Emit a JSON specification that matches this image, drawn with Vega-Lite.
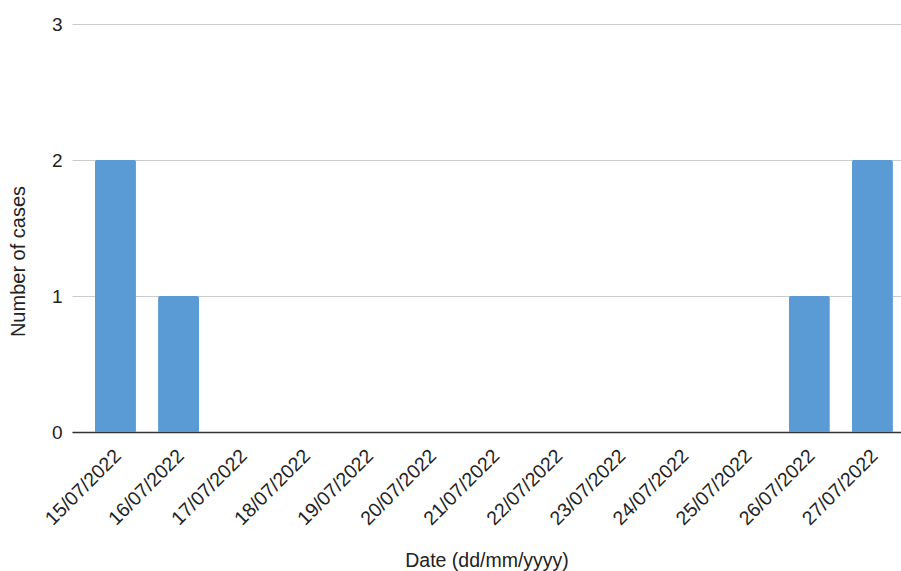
{
  "$schema": "https://vega.github.io/schema/vega-lite/v6.json",
  "width": 829,
  "height": 408,
  "autosize": "none",
  "padding": {"left": 72, "top": 24, "right": 0, "bottom": 139},
  "background": "white",
  "config": {
    "view": {"stroke": null},
    "font": "Liberation Sans"
  },
  "data": {
    "values": [
      {"date": "15/07/2022", "cases": 2},
      {"date": "16/07/2022", "cases": 1},
      {"date": "17/07/2022", "cases": 0},
      {"date": "18/07/2022", "cases": 0},
      {"date": "19/07/2022", "cases": 0},
      {"date": "20/07/2022", "cases": 0},
      {"date": "21/07/2022", "cases": 0},
      {"date": "22/07/2022", "cases": 0},
      {"date": "23/07/2022", "cases": 0},
      {"date": "24/07/2022", "cases": 0},
      {"date": "25/07/2022", "cases": 0},
      {"date": "26/07/2022", "cases": 1},
      {"date": "27/07/2022", "cases": 2}
    ]
  },
  "mark": {"type": "bar", "color": "#5b9bd5", "cornerRadiusTopLeft": 2, "cornerRadiusTopRight": 2},
  "encoding": {
    "x": {
      "field": "date",
      "type": "ordinal",
      "sort": null,
      "scale": {"paddingInner": 0.35, "paddingOuter": 0.246, "align": 0.74},
      "axis": {
        "title": "Date (dd/mm/yyyy)",
        "titleFont": "Liberation Sans",
        "titleFontSize": 19.5,
        "titleFontWeight": "normal",
        "titleColor": "#222222",
        "titleY": 134,
        "titleBaseline": "alphabetic",
        "labelAngle": -45,
        "labelFontSize": 19.5,
        "labelColor": "#222222",
        "labelPadding": 14,
        "labelOffset": -4,
        "ticks": false,
        "domainColor": "#333333",
        "domainWidth": 1.5
      }
    },
    "y": {
      "field": "cases",
      "type": "quantitative",
      "scale": {"domain": [0, 3]},
      "axis": {
        "title": "Number of cases",
        "titleFont": "Liberation Sans",
        "titleFontSize": 20,
        "titleFontWeight": "normal",
        "titleColor": "#222222",
        "titleX": -54,
        "titleY": 237,
        "titleAngle": -90,
        "titleBaseline": "middle",
        "titleAlign": "center",
        "values": [0, 1, 2, 3],
        "format": "d",
        "labelFontSize": 19,
        "labelColor": "#222222",
        "labelPadding": 10,
        "ticks": false,
        "domain": false,
        "gridColor": "#cccccc",
        "gridWidth": 1.2
      }
    }
  }
}
